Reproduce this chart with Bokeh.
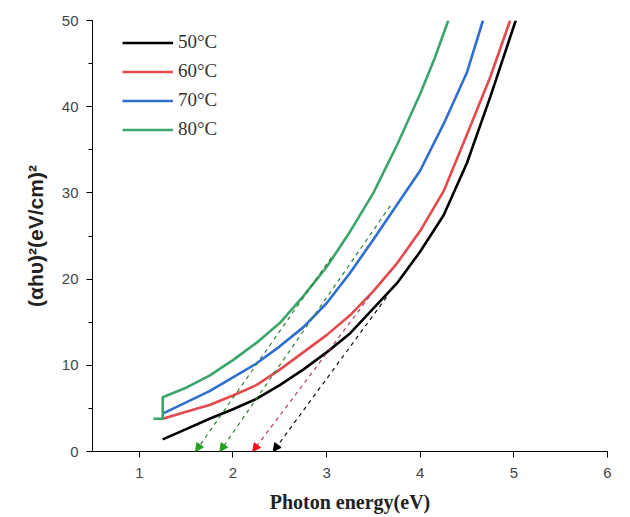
from bokeh.plotting import figure
from bokeh.models import Range1d, SingleIntervalTicker, FixedTicker, Legend, LegendItem, Arrow, NormalHead
from bokeh.embed import file_html
from bokeh.resources import INLINE

# ---- data ----
labels = ["50°C", "60°C", "70°C", "80°C"]

x_50 = [1.25, 1.5, 1.75, 2.0, 2.25, 2.5, 2.75, 3.0, 3.25, 3.5, 3.75, 4.0, 4.25, 4.5, 4.75, 5.02]
y_50 = [1.4, 2.6, 3.8, 4.9, 6.1, 7.7, 9.5, 11.5, 13.7, 16.6, 19.5, 23.2, 27.4, 33.5, 41.2, 50.0]

x_60 = [1.25, 1.5, 1.75, 2.0, 2.25, 2.5, 2.75, 3.0, 3.25, 3.5, 3.75, 4.0, 4.25, 4.5, 4.75, 4.96]
y_60 = [3.8, 4.6, 5.4, 6.5, 7.7, 9.5, 11.5, 13.5, 15.8, 18.6, 21.8, 25.6, 30.2, 36.8, 43.5, 50.0]

x_70 = [1.25, 1.5, 1.75, 2.0, 2.25, 2.5, 2.75, 3.0, 3.25, 3.5, 3.75, 4.0, 4.25, 4.5, 4.67]
y_70 = [4.4, 5.7, 7.0, 8.6, 10.2, 12.2, 14.4, 17.2, 20.7, 24.6, 28.6, 32.6, 38.0, 44.0, 50.0]

x_80 = [1.15, 1.25, 1.25, 1.5, 1.75, 2.0, 2.25, 2.5, 2.75, 3.0, 3.25, 3.5, 3.75, 4.0, 4.15, 4.30]
y_80 = [3.8, 3.8, 6.3, 7.4, 8.8, 10.6, 12.6, 14.9, 18.0, 21.4, 25.5, 30.0, 35.5, 41.5, 45.5, 50.0]

# extrapolated tangent lines: upper end and intercept on the energy axis
tan_x_top = [3.64, 3.46, 3.05, 3.68]
tan_y_top = [17.9, 18.0, 22.5, 28.5]
tan_x0 = [2.43, 2.21, 1.60, 1.86]

x_ticks = [1, 2, 3, 4, 5, 6]

curve_colors = ["#000000", "#e4494c", "#2e6fcf", "#3aa66b"]
dash_colors = ["#111111", "#b03a6a", "#2f7f35", "#2f7f35"]
head_colors = ["#000000", "#e8161e", "#22a022", "#22a022"]

p = figure(width=630, height=517, output_backend="svg", toolbar_location=None,
           x_range=Range1d(0.5, 6.0), y_range=Range1d(0, 50),
           min_border_left=92, min_border_right=23, min_border_top=20, min_border_bottom=66)
p.outline_line_color = None
p.xgrid.grid_line_color = None
p.ygrid.grid_line_color = None
p.background_fill_color = "white"

renderers = []
for xs, ys, c in zip([x_50, x_60, x_70, x_80], [y_50, y_60, y_70, y_80], curve_colors):
    r = p.line(xs, ys, line_color=c, line_width=2.6)
    renderers.append(r)

for xt, yt, x0, dc, hc in zip(tan_x_top, tan_y_top, tan_x0, dash_colors, head_colors):
    p.add_layout(Arrow(end=NormalHead(size=8, fill_color=hc, line_color=hc, line_width=1),
                       x_start=xt, y_start=yt, x_end=x0, y_end=0,
                       line_color=dc, line_width=1.2, line_dash="4 4"))

legend = Legend(items=[LegendItem(label=l, renderers=[r]) for l, r in zip(labels, renderers)],
                location=(30, 311), padding=0, margin=0, spacing=7,
                glyph_width=51, glyph_height=21, label_height=21, label_standoff=5,
                label_text_font="Liberation Serif", label_text_font_size="19px",
                label_text_color="#333333",
                background_fill_alpha=0, border_line_alpha=0)
p.add_layout(legend)

for ax in (p.xaxis[0], p.yaxis[0]):
    ax.axis_line_color = "black"
    ax.major_tick_line_color = "black"
    ax.minor_tick_line_color = "black"
    ax.major_tick_out = 6
    ax.major_tick_in = 0
    ax.minor_tick_out = 4
    ax.minor_tick_in = 0
    ax.major_label_text_font = "Liberation Sans"
    ax.major_label_text_font_size = "15px"
    ax.major_label_text_color = "#444444"

p.xaxis.ticker = FixedTicker(ticks=x_ticks)
p.xaxis.minor_tick_line_color = None
p.yaxis.ticker = SingleIntervalTicker(interval=10, num_minor_ticks=2)

p.xaxis.axis_label = "Photon energy(eV)"
p.xaxis.axis_label_text_font = "Liberation Serif"
p.xaxis.axis_label_text_font_style = "bold"
p.xaxis.axis_label_text_font_size = "20px"
p.xaxis.axis_label_text_color = "#222222"
p.xaxis.major_label_standoff = 10
p.xaxis.axis_label_standoff = 10

p.yaxis.axis_label = "(αhυ)²(eV/cm)²"
p.yaxis.axis_label_text_font = "Liberation Sans"
p.yaxis.axis_label_text_font_style = "bold"
p.yaxis.axis_label_text_font_size = "21px"
p.yaxis.axis_label_text_color = "#222222"
p.yaxis.major_label_standoff = 8
p.yaxis.axis_label_standoff = 12

open("out.html", "w").write(file_html(p, INLINE))
